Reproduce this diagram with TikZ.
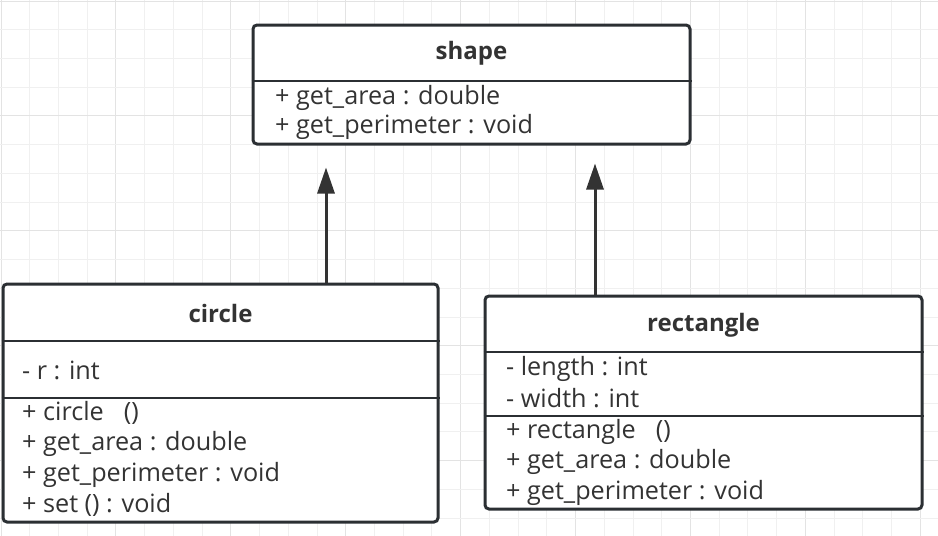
\documentclass[tikz,border=0pt]{standalone}
\usepackage{fontspec}
\setmainfont{Open Sans}
\usetikzlibrary{arrows.meta}
\definecolor{gridminor}{HTML}{F0F0F0}
\definecolor{gridmajor}{HTML}{E3E3E3}
\definecolor{boxline}{HTML}{2B2F33}
\definecolor{txt}{HTML}{333333}
\tikzset{
  classbox/.style={draw=boxline, line width=3pt, rounded corners=4pt, fill=white, inner sep=0pt},
  divider/.style={draw=boxline, line width=2.6pt},
  member/.style={anchor=west, inner sep=0pt, text=txt, font=\fontsize{25.2}{28}\selectfont},
  title/.style={inner sep=0pt, text=txt, font=\bfseries\fontsize{24}{28}\selectfont},
  inh/.style={draw=txt, line width=3pt, -{Triangle[width=17pt,length=26pt]}}
}
\begin{document}
\begin{tikzpicture}[x=1pt,y=-1pt]
\useasboundingbox (0,0) rectangle (938,536);
\fill[white] (0,0) rectangle (938,536);
% grid
\foreach \k in {0,...,32} {
  \pgfmathsetmacro{\xx}{1+28.73*\k}
  \pgfmathtruncatemacro{\mm}{mod(\k,4)}
  \ifnum\mm=0
    \draw[gridmajor, line width=1pt] (\xx,0) -- (\xx,536);
  \else
    \draw[gridminor, line width=1pt] (\xx,0) -- (\xx,536);
  \fi
}
\foreach \k in {0,...,18} {
  \pgfmathsetmacro{\yy}{1+28.73*\k}
  \pgfmathtruncatemacro{\mm}{mod(\k,4)}
  \ifnum\mm=0
    \draw[gridmajor, line width=1pt] (0,\yy) -- (938,\yy);
  \else
    \draw[gridminor, line width=1pt] (0,\yy) -- (938,\yy);
  \fi
}
% class boxes
\node[classbox, minimum width=437pt, minimum height=119pt] (shape) at (471.5,84.5) {};
\node[classbox, minimum width=435pt, minimum height=238pt] (circ) at (220.5,403) {};
\node[classbox, minimum width=437pt, minimum height=213pt] (rect) at (703.5,402.5) {};
% dividers
\draw[divider] (shape.west |- 0,81) -- (shape.east |- 0,81);
\draw[divider] (circ.west |- 0,341) -- (circ.east |- 0,341);
\draw[divider] (circ.west |- 0,398) -- (circ.east |- 0,398);
\draw[divider] (rect.west |- 0,352) -- (rect.east |- 0,352);
\draw[divider] (rect.west |- 0,416) -- (rect.east |- 0,416);
% titles
\node[title] (shapeT) at (shape.center |- 0,53) {shape};
\node[title] (circT) at (circ.center |- 0,313) {circle};
\node[title] (rectT) at (rect.center |- 0,325) {rectangle};
% shape members
\node[member] (s1) at (275,98) {+ get\_area : double};
\node[member] (s2) at (275,127) {+ get\_perimeter : void};
% circle members
\node[member] (c0) at (22,370) {- r : int};
\node[member] (c1) at (22,413) {+ circle\hspace{0.8em}()};
\node[member] (c2) at (22,444) {+ get\_area : double};
\node[member] (c3) at (22,475) {+ get\_perimeter : void};
\node[member] (c4) at (22,505) {+ set () : void};
% rectangle members
\node[member] (r0) at (506,369) {- length : int};
\node[member] (r1) at (506,398) {- width : int};
\node[member] (r2) at (506,432) {+ rectangle\hspace{0.8em}()};
\node[member] (r3) at (506,462) {+ get\_area : double};
\node[member] (r4) at (506,493) {+ get\_perimeter : void};
% inheritance arrows
\coordinate (aL) at (326,0);
\coordinate (aR) at (595,0);
\draw[inh, shorten >=22pt] (circ.north -| aL) -- (shape.south -| aL);
\draw[inh, shorten >=18pt] (rect.north -| aR) -- (shape.south -| aR);
\end{tikzpicture}
\end{document}
